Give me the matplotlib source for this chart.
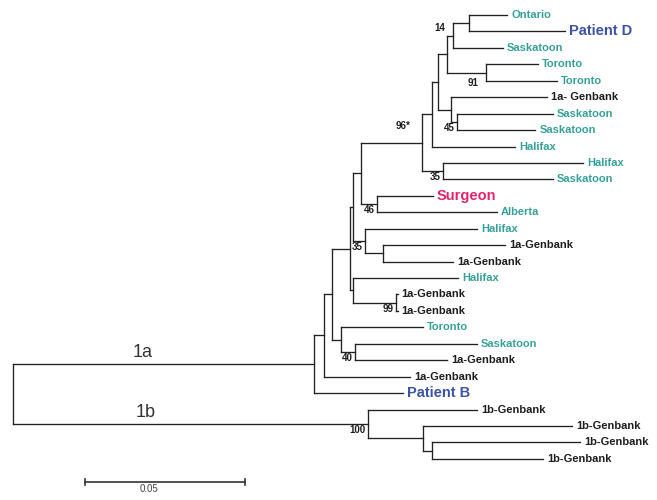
import matplotlib
matplotlib.use("Agg")
import matplotlib.pyplot as plt

plt.rcParams['font.family'] = ['Liberation Sans', 'DejaVu Sans']

# tree in newick form, branch lengths in substitutions/site, support values as node names
newick = (
    "(((((((((((((Ontario:0.0119,Patient D:0.0300):0.0050,Saskatoon:0.0156)14:0.0019,"
    "(Toronto:0.0163,Toronto:0.0222)91:0.0122):0.0028,"
    "(1a- Genbank:0.0300,(Saskatoon:0.0300,Saskatoon:0.0244)45:0.0019):0.0041):0.0019,"
    "Halifax:0.0259):0.0031,"
    "(Halifax:0.0438,Saskatoon:0.0344)35:0.0066)96*:0.0191,"
    "(Surgeon:0.0175,Alberta:0.0375)46:0.0050):0.0025,"
    "(Halifax:0.0350,(1a-Genbank:0.0381,1a-Genbank:0.0219):0.0056)35:0.0038):0.0009,"
    "(Halifax:0.0328,(1a-Genbank:0.0006,1a-Genbank:0.0006)99:0.0134):0.0009):0.0056,"
    "(Toronto:0.0256,(Saskatoon:0.0381,1a-Genbank:0.0288)40:0.0044):0.0028):0.0025,"
    "1a-Genbank:0.0269):0.0031,"
    "Patient B:0.0278):0.0941,"
    "(1b-Genbank:0.0341,(1b-Genbank:0.0466,(1b-Genbank:0.0463,1b-Genbank:0.0347):0.0028):0.0172)100:0.1109);"
)

genotype_labels = ['1a', '1b']
genotype_label_pos = [0.43, 0.375]   # fraction along the root branches
scale_len = 0.05
scale_text = '0.05'

TEAL = '#38a09a'
BLUE = '#3c52a3'
PINK = '#e2246f'
DARK = '#1e1e1e'
LINE = '#222222'


def parse(s):
    pos = 0

    def node():
        nonlocal pos
        kids = []
        if s[pos] == '(':
            pos += 1
            kids.append(node())
            while s[pos] == ',':
                pos += 1
                kids.append(node())
            pos += 1
        start = pos
        while s[pos] not in ':,);':
            pos += 1
        name = s[start:pos]
        length = 0.0
        if s[pos] == ':':
            pos += 1
            start = pos
            while s[pos] not in ',);':
                pos += 1
            length = float(s[start:pos])
        return {'name': name, 'len': length, 'kids': kids}

    return node()


tree = parse(newick)
leaf_count = [0]


def layout(n, x0):
    n['x'] = x0 + n['len']
    if not n['kids']:
        n['y'] = leaf_count[0]
        leaf_count[0] += 1
    else:
        for k in n['kids']:
            layout(k, n['x'])
        n['y'] = (n['kids'][0]['y'] + n['kids'][-1]['y']) / 2


tree['len'] = 0.0
layout(tree, 0.0)

fig = plt.figure(figsize=(6.57, 5), dpi=100)
ax = fig.add_axes([0, 0, 1, 1])
ax.axis('off')
PX_X = 1 / 3200.0
PX_Y = 1 / 16.44
ax.set_xlim(-13 * PX_X, 644 * PX_X)
ax.set_ylim(485 * PX_Y, -15 * PX_Y)

PT = 0.72  # px -> points at 100 dpi

# support label offsets (px) from the node (right edge of text)
support_offset = {'14': (-8, -8), '91': (-7, 10.5), '96*': (-11, -17)}


def leaf_style(name):
    if name.startswith('Patient'):
        return BLUE, 10.5
    if name == 'Surgeon':
        return PINK, 10.5
    if 'Genbank' in name:
        return DARK, 8
    return TEAL, 8


def draw(n):
    if not n['kids']:
        col, fs = leaf_style(n['name'])
        ax.annotate(n['name'], (n['x'], n['y']), xytext=(4 * PT, 0),
                    textcoords='offset points', ha='left', va='center',
                    fontsize=fs, fontweight='bold', color=col)
        return
    ys = [k['y'] for k in n['kids']]
    ax.plot([n['x'], n['x']], [min(ys), max(ys)], color=LINE, lw=0.95,
            solid_capstyle='projecting')
    for k in n['kids']:
        ax.plot([n['x'], k['x']], [k['y'], k['y']], color=LINE, lw=0.95,
                solid_capstyle='projecting')
        draw(k)
    if n['name']:
        dx, dy = support_offset.get(n['name'], (-2, 6))
        ax.annotate(n['name'], (n['x'], n['y']), xytext=(dx * PT, -dy * PT),
                    textcoords='offset points', ha='right', va='center',
                    fontsize=7, fontweight='bold', color=DARK)


draw(tree)

# genotype labels on the two root branches
for k, lab, f in zip(tree['kids'], genotype_labels, genotype_label_pos):
    ax.annotate(lab, (k['len'] * f, k['y']), xytext=(0, 3 * PT),
                textcoords='offset points', ha='center', va='bottom',
                fontsize=13, color='#333333')

# scale bar
sb_x0 = 72 * PX_X
sb_y = 467 * PX_Y
ax.plot([sb_x0, sb_x0 + scale_len], [sb_y, sb_y], color='#333333', lw=1.2)
for xx in (sb_x0, sb_x0 + scale_len):
    ax.plot([xx, xx], [sb_y - 3 * PX_Y, sb_y + 3 * PX_Y], color='#333333', lw=1.2)
ax.annotate(scale_text, (sb_x0 + scale_len * 0.4, sb_y), xytext=(0, -2 * PT),
            textcoords='offset points', ha='center', va='top',
            fontsize=7, color='#444444')

fig.savefig('out.png', dpi=100, facecolor='white')
